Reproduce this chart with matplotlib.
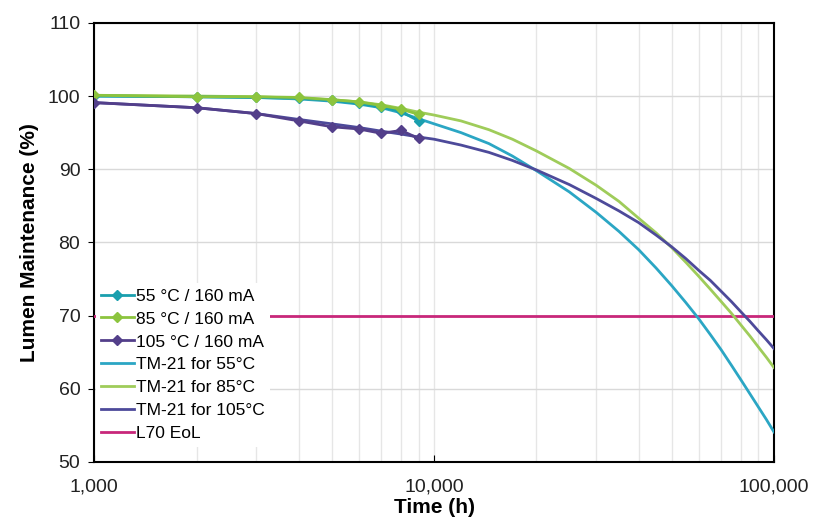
import numpy as np
import matplotlib
matplotlib.use('Agg')
import matplotlib.pyplot as plt
from matplotlib.ticker import FuncFormatter, NullFormatter

plt.rcParams['font.family'] = ['Liberation Sans', 'DejaVu Sans']

# measured lumen maintenance
t_meas = [1000, 2000, 3000, 4000, 5000, 6000, 7000, 8000, 9000]
lm_55 = [100.0, 99.9, 99.8, 99.7, 99.4, 99.0, 98.5, 97.9, 96.6]
lm_85 = [100.1, 99.9, 99.9, 99.8, 99.5, 99.2, 98.7, 98.2, 97.5]
lm_105 = [99.1, 98.4, 97.6, 96.6, 95.8, 95.5, 94.9, 95.3, 94.2]

# TM-21 projections
t_proj = [1000, 2000, 3000, 4000, 5000, 6000, 7000, 8000, 9000, 10000,
          12000, 14500, 17000, 20000, 25000, 30000, 35000, 40000, 45000,
          50000, 55000, 60000, 65000, 70000, 75000, 80000, 85000, 90000,
          95000, 100000]
tm_55 = [100.0, 99.9, 99.8, 99.6, 99.3, 98.9, 98.4, 97.7, 96.9, 96.2,
         95.0, 93.5, 91.8, 89.8, 86.9, 84.1, 81.5, 79.0, 76.5,
         74.1, 71.8, 69.6, 67.4, 65.3, 63.2, 61.2, 59.3, 57.5,
         55.8, 54.1]
tm_85 = [100.1, 100.0, 99.9, 99.7, 99.5, 99.2, 98.8, 98.3, 97.8, 97.4,
         96.6, 95.4, 94.1, 92.5, 90.1, 87.8, 85.6, 83.3, 81.3,
         79.3, 77.3, 75.4, 73.6, 71.9, 70.3, 68.7, 67.2, 65.7,
         64.3, 62.9]
tm_105 = [99.1, 98.4, 97.6, 96.8, 96.2, 95.7, 95.2, 94.8, 94.4, 94.1,
          93.3, 92.3, 91.2, 89.9, 87.9, 86.0, 84.3, 82.7, 81.0,
          79.4, 77.8, 76.2, 74.8, 73.3, 71.9, 70.5, 69.2, 67.9,
          66.7, 65.5]

t_l70 = [1000, 100000]
l70 = [70, 70]

fig = plt.figure(figsize=(8.19, 5.31), dpi=100)
ax = fig.add_axes([0.115, 0.130, 0.830, 0.827])

ax.plot(t_meas, lm_55, color='#1a9fae', lw=2, marker='D', ms=5, label='55 °C / 160 mA', zorder=5)
ax.plot(t_meas, lm_85, color='#8cc43e', lw=2, marker='D', ms=5, label='85 °C / 160 mA', zorder=5)
ax.plot(t_meas, lm_105, color='#533f8a', lw=2, marker='D', ms=5, label='105 °C / 160 mA', zorder=5)
ax.plot(t_proj, tm_55, color='#2ba6c4', lw=2, label='TM-21 for 55°C', zorder=4)
ax.plot(t_proj, tm_85, color='#9fcc5a', lw=2, label='TM-21 for 85°C', zorder=4)
ax.plot(t_proj, tm_105, color='#4d4a9a', lw=2, label='TM-21 for 105°C', zorder=4)
ax.plot(t_l70, l70, color='#c8277a', lw=2, label='L70 EoL', zorder=3)

ax.set_xscale('log')
ax.set_xlim(1000, 100000)
ax.set_ylim(50, 110)
ax.set_yticks(range(50, 111, 10))
ax.xaxis.set_major_formatter(FuncFormatter(lambda v, p: f'{int(v):,}'))
ax.xaxis.set_minor_formatter(NullFormatter())

ax.grid(True, which='major', axis='y', color='#d9d9d9', lw=1)
ax.grid(True, which='both', axis='x', color='#e6e6e6', lw=1)
ax.set_axisbelow(True)

for s in ax.spines.values():
    s.set_linewidth(1.5)
    s.set_color('black')

ax.tick_params(axis='x', which='major', direction='in', length=5, labelsize=14, pad=12)
ax.tick_params(axis='x', which='minor', length=0)
ax.tick_params(axis='y', direction='out', length=4, labelsize=14, pad=6)
for lab in ax.get_xticklabels() + ax.get_yticklabels():
    lab.set_color('#222222')

ax.set_xlabel('Time (h)', fontsize=15, fontweight='bold', labelpad=2)
ax.set_ylabel('Lumen Maintenance (%)', fontsize=15, fontweight='bold', labelpad=6)

leg = ax.legend(loc='lower left', bbox_to_anchor=(0.002, 0.035), fontsize=12.5,
                frameon=True, framealpha=1, edgecolor='white', handlelength=1.9,
                handletextpad=0.15, labelspacing=0.45, borderaxespad=0, borderpad=0.3)
leg.get_frame().set_linewidth(0)

fig.savefig('out.png', dpi=100)
